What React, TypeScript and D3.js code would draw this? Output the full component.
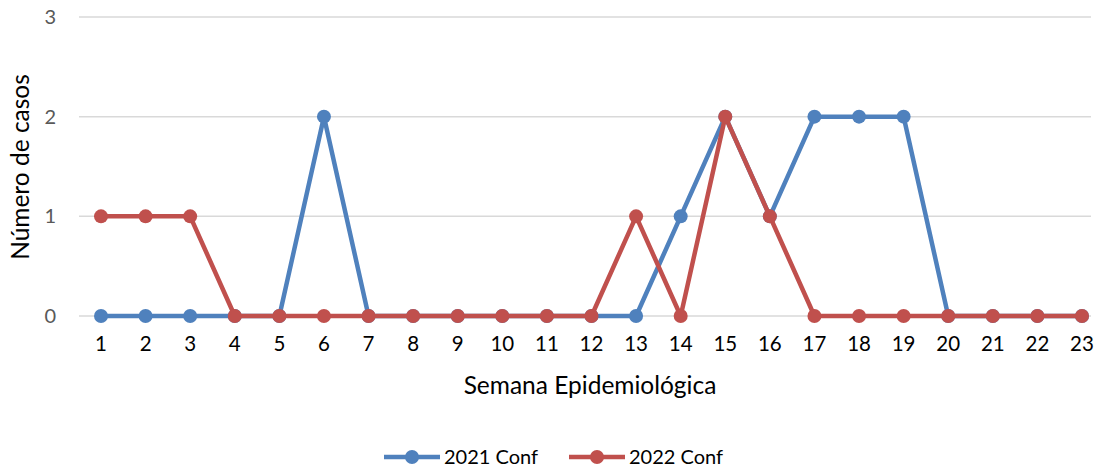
import { useRef, useEffect } from "react";
import * as d3 from "d3";

const weeks = d3.range(1, 24).map(String);
const conf2021 = [0, 0, 0, 0, 0, 2, 0, 0, 0, 0, 0, 0, 0, 1, 2, 1, 2, 2, 2, 0, 0, 0, 0];
const conf2022 = [1, 1, 1, 0, 0, 0, 0, 0, 0, 0, 0, 0, 1, 0, 2, 1, 0, 0, 0, 0, 0, 0, 0];
const yTicks = [0, 1, 2, 3];
const seriesNames = ["2021 Conf", "2022 Conf"];

const COLORS = {
  s2021: "#4F81BD",
  s2022: "#C0504D",
  grid: "#D9D9D9",
  tickText: "#595959",
  text: "#000000",
};

const FONT = "Lato, 'Open Sans', sans-serif";

export default function App() {
  const svgRef = useRef<SVGSVGElement>(null);

  useEffect(() => {
    if (!svgRef.current) return;
    const width = 1099;
    const height = 470;
    const svg = d3.select(svgRef.current);
    svg.selectAll("*").remove();

    const x = d3.scalePoint<string>().domain(weeks).range([101, 1082]);
    const y = d3.scaleLinear().domain([0, 3]).range([316, 17]);
    const gridLeft = 79;
    const gridRight = 1091;

    // Grid
    svg
      .append("g")
      .selectAll("line")
      .data(yTicks)
      .enter()
      .append("line")
      .attr("x1", gridLeft)
      .attr("x2", gridRight)
      .attr("y1", (d) => y(d))
      .attr("y2", (d) => y(d))
      .attr("stroke", COLORS.grid)
      .attr("stroke-width", 1.5);

    // Y tick labels
    svg
      .append("g")
      .selectAll("text")
      .data(yTicks)
      .enter()
      .append("text")
      .attr("x", 56)
      .attr("y", (d) => y(d))
      .attr("dy", "0.35em")
      .attr("text-anchor", "end")
      .attr("font-family", FONT)
      .attr("font-size", "20px")
      .attr("fill", COLORS.tickText)
      .text((d) => String(d));

    // X tick labels
    svg
      .append("g")
      .selectAll("text")
      .data(weeks)
      .enter()
      .append("text")
      .attr("x", (d) => x(d) ?? 0)
      .attr("y", 351)
      .attr("text-anchor", "middle")
      .attr("font-family", FONT)
      .attr("font-size", "20.5px")
      .attr("fill", COLORS.text)
      .text((d) => d);

    // Axis titles
    svg
      .append("text")
      .attr("x", 590)
      .attr("y", 394)
      .attr("text-anchor", "middle")
      .attr("font-family", FONT)
      .attr("font-size", "24.5px")
      .attr("fill", COLORS.text)
      .text("Semana Epidemiológica");

    svg
      .append("text")
      .attr("transform", `translate(29,167) rotate(-90)`)
      .attr("text-anchor", "middle")
      .attr("font-family", FONT)
      .attr("font-size", "24.5px")
      .attr("fill", COLORS.text)
      .text("Número de casos");

    const line = d3
      .line<number>()
      .x((_, i) => x(weeks[i]) ?? 0)
      .y((d) => y(d));

    const series = [
      { name: seriesNames[0], values: conf2021, color: COLORS.s2021 },
      { name: seriesNames[1], values: conf2022, color: COLORS.s2022 },
    ];

    series.forEach((s) => {
      const g = svg.append("g");
      g.append("path")
        .datum(s.values)
        .attr("fill", "none")
        .attr("stroke", s.color)
        .attr("stroke-width", 4.5)
        .attr("stroke-linejoin", "round")
        .attr("d", line);
      g.selectAll("circle")
        .data(s.values)
        .enter()
        .append("circle")
        .attr("cx", (_, i) => x(weeks[i]) ?? 0)
        .attr("cy", (d) => y(d))
        .attr("r", 7)
        .attr("fill", s.color);
    });

    // Legend
    const legendX = [384, 569];
    series.forEach((s, i) => {
      const lg = svg.append("g").attr("transform", `translate(${legendX[i]},457)`);
      lg.append("line")
        .attr("x1", 0)
        .attr("x2", 56)
        .attr("y1", 0)
        .attr("y2", 0)
        .attr("stroke", s.color)
        .attr("stroke-width", 4.5);
      lg.append("circle").attr("cx", 28).attr("cy", 0).attr("r", 7).attr("fill", s.color);
      lg.append("text")
        .attr("x", 60)
        .attr("y", 0)
        .attr("dy", "0.35em")
        .attr("font-family", FONT)
        .attr("font-size", "20px")
        .attr("fill", COLORS.text)
        .text(s.name);
    });

    svg.attr("width", width).attr("height", height);
  }, []);

  return (
    <div style={{ position: "absolute", left: 0, top: 0 }}>
      <svg ref={svgRef} style={{ display: "block", background: "#fff" }} />
    </div>
  );
}
